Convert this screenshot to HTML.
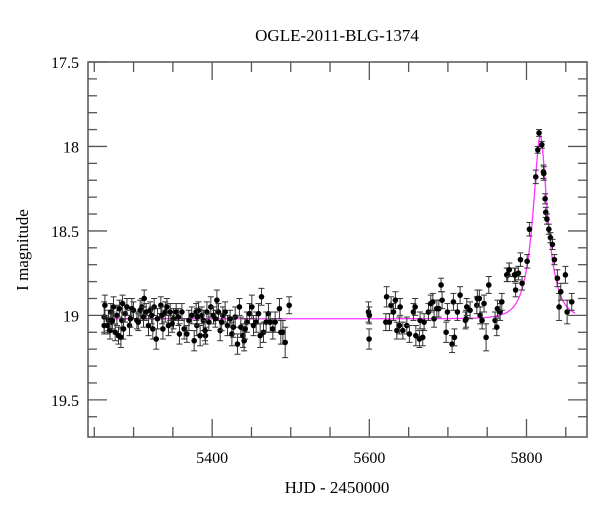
<!DOCTYPE html>
<html><head><meta charset="utf-8"><style>
html,body{margin:0;padding:0;background:#fff;}
svg{display:block;font-family:"Liberation Serif",serif;}
</style></head><body>
<svg id="chart" width="600" height="512" viewBox="0 0 600 512" xmlns="http://www.w3.org/2000/svg">
<rect width="600" height="512" fill="#fff"/>
<text x="337" y="41" font-size="17" text-anchor="middle">OGLE-2011-BLG-1374</text>
<text x="337" y="493" font-size="17" text-anchor="middle">HJD - 2450000</text>
<text transform="translate(28,250) rotate(-90)" font-size="17" text-anchor="middle">I magnitude</text>
<g id="ticks"></g>
<g id="model"></g>
<g id="points"></g>
<rect x="88" y="62" width="499" height="375" fill="none" stroke="#555" stroke-width="1.5"/>
</svg>
<script>
const days=[5262.6,5263.5,5262.6,5268,5271,5272.4,5274.5,5276.6,5278.8,5280.8,5282,5283.9,5285.1,5287.2,5289.3,5291.5,5294.8,5297.8,5299.9,5304.2,5308.4,5310.6,5312.6,5313.5,5316,5319,5321.1,5324.5,5326.2,5328.8,5330.4,5334.7,5337.3,5340.3,5342.4,5344.4,5346.6,5350.8,5354.2,5358.4,5361.5,5364.4,5367.8,5370.4,5377.1,5379.6,5380.5,5382.6,5384.7,5386.9,5388.9,5391.5,5393.3,5395.8,5398.3,5401.7,5406,5408,5410.2,5413.6,5416.5,5419.5,5422.9,5425.1,5429.3,5432.2,5434.7,5436.5,5439.1,5440.7,5444.1,5447.5,5450.5,5452.6,5456,5459,5461.1,5462.8,5465.3,5468.7,5471.6,5473.8,5477.2,5480.2,5485.6,5487.4,5490,5492.9,5498,
5267,5270,5273,5286,5296,5306,5323,5336,5349,5357,5374,5381,5391,5404,5412,5427,5442,
5598.9,5599.7,5600,5622,5621,5625.6,5627.7,5630.7,5633.2,5635,5638.3,5639.2,5642.6,5647.7,5651,5656.1,5658.3,5659.2,5663.8,5664.6,5668,5669.7,5675.2,5678.2,5680.8,5682.4,5685.9,5688.4,5691.3,5692.6,5697.7,5699.4,5705.3,5707,5708.3,5712.1,5715.5,5722.3,5723.2,5724,5728.2,5736.8,5737.5,5740,5741,5743.5,5746,5748.6,5752,5760,5762.2,5763,5766.4,5768.6,5774.9,5778,5785.9,
5776.2,5777.9,5784.7,5786.2,5789.7,5792.3,5794.4,5800.8,5803.7,5811.8,5814.4,5816,5819.5,5821.5,5822,5823.7,5824.5,5826,5828.4,5830.5,5833,5835.5,5839.3,5841.5,5843.6,5849.5,5851.7,5857.6];
const mags=[19.01,18.94,19.06,19.03,18.98,19.04,18.95,19.10,19.00,19.12,18.96,19.13,19.03,19.08,18.99,18.95,19.06,18.96,18.97,19.03,18.97,18.95,19.01,18.90,18.98,19.06,18.97,19.08,18.95,19.14,19.02,18.94,19.08,18.98,18.95,19.06,18.98,19.02,18.98,19.11,18.98,19.08,19.11,19.03,19.15,18.98,19.06,18.97,19.12,19.00,19.03,19.12,18.98,19.04,18.95,19.00,18.91,18.98,19.09,19.00,18.98,19.06,19.02,19.11,19.01,19.17,18.95,19.07,19.12,19.15,19.04,18.99,18.95,19.06,19.04,18.99,19.12,18.89,19.10,19.04,18.99,19.04,19.08,19.04,18.96,19.10,19.10,19.16,18.94,
19.06,19.09,19.03,18.93,19.02,19.04,19.00,19.00,19.05,19.01,19.00,19.01,19.09,19.02,19.04,19.07,19.08,
18.98,19.14,19.00,18.89,19.04,19.04,18.94,18.98,18.91,19.09,19.06,18.95,19.09,19.06,19.11,18.98,18.95,19.12,19.14,19.03,19.13,19.04,18.98,18.93,18.92,19.02,18.96,18.96,18.82,18.91,19.10,18.98,19.17,18.92,19.13,18.98,18.88,19.03,19.02,18.95,18.97,18.94,18.90,18.90,19.00,19.03,18.93,19.13,18.82,19.03,19.07,18.96,18.98,18.92,18.76,18.73,18.76,
18.76,18.73,18.76,18.85,18.75,18.67,18.81,18.68,18.49,18.18,18.02,17.92,17.99,18.15,18.16,18.31,18.39,18.43,18.49,18.54,18.58,18.67,18.78,18.95,18.86,18.76,18.98,18.92];
const errs=[0.09,0.06,0.05,0.06,0.05,0.05,0.06,0.05,0.06,0.05,0.05,0.06,0.05,0.06,0.05,0.05,0.06,0.06,0.05,0.05,0.06,0.05,0.06,0.05,0.05,0.06,0.05,0.06,0.05,0.06,0.06,0.05,0.06,0.06,0.05,0.06,0.05,0.06,0.05,0.06,0.05,0.06,0.05,0.06,0.06,0.05,0.06,0.05,0.06,0.05,0.06,0.05,0.06,0.05,0.06,0.05,0.06,0.05,0.06,0.05,0.06,0.06,0.05,0.07,0.06,0.06,0.05,0.06,0.07,0.06,0.06,0.06,0.07,0.06,0.06,0.06,0.07,0.05,0.06,0.06,0.06,0.06,0.06,0.06,0.06,0.07,0.07,0.09,0.05,
0.05,0.05,0.05,0.05,0.05,0.05,0.05,0.05,0.05,0.05,0.05,0.05,0.06,0.05,0.05,0.06,0.06,
0.06,0.06,0.05,0.06,0.05,0.05,0.05,0.05,0.05,0.05,0.05,0.05,0.05,0.05,0.05,0.05,0.05,0.06,0.05,0.05,0.05,0.05,0.05,0.05,0.05,0.05,0.05,0.05,0.04,0.05,0.06,0.05,0.05,0.05,0.05,0.05,0.05,0.05,0.05,0.05,0.05,0.05,0.05,0.05,0.05,0.05,0.05,0.08,0.05,0.05,0.05,0.05,0.05,0.05,0.04,0.04,0.04,
0.04,0.04,0.04,0.04,0.04,0.04,0.04,0.04,0.04,0.04,0.02,0.02,0.02,0.04,0.04,0.03,0.03,0.03,0.03,0.03,0.03,0.03,0.05,0.08,0.05,0.05,0.07,0.05];
const xTickMajor=[5400,5600,5800];
const yTickMajor=[17.5,18,18.5,19,19.5];
const modelParams=[5817.5,18,0.39,19.02]; // t0, tE, u0, baseline
const X0=88,X1=587,Y0=62,Y1=437,DMIN=5242,DMAX=5877,MTOP=17.5,MBOT=19.72;
const sx=d=>X0+(d-DMIN)/(DMAX-DMIN)*(X1-X0);
const sy=m=>Y0+(m-MTOP)/(MBOT-MTOP)*(Y1-Y0);
const NS="http://www.w3.org/2000/svg";
function mk(tag,attrs,parent){const e=document.createElementNS(NS,tag);for(const k in attrs)e.setAttribute(k,attrs[k]);parent.appendChild(e);return e;}
const tg=document.getElementById('ticks');
for(let d=5250;d<=5850;d+=50){const maj=xTickMajor.includes(d);const L=maj?18:10;const x=sx(d);
 let t=mk('line',{x1:x,x2:x,y1:Y1,y2:Y1-L,stroke:'#555','stroke-width':1.3},tg);
 
 
 t=mk('line',{x1:x,x2:x,y1:Y0,y2:Y0+L,stroke:'#555','stroke-width':1.3},tg);
 
 
 if(maj){const l=mk('text',{x:x,y:463,'font-size':16,'text-anchor':'middle'},tg);l.textContent=d;
 
 }}
for(let i=0;i<=21;i++){const m=17.5+i*0.1;const maj=yTickMajor.some(v=>Math.abs(v-m)<1e-6);const L=maj?19:9;const y=sy(m);
 let t=mk('line',{x1:X0,x2:X0+L,y1:y,y2:y,stroke:'#555','stroke-width':1.3},tg);
 
 
 t=mk('line',{x1:X1,x2:X1-L,y1:y,y2:y,stroke:'#555','stroke-width':1.3},tg);
 
 
 if(maj){const l=mk('text',{x:79,y:y+6,'font-size':16,'text-anchor':'end'},tg);l.textContent=String(Math.round(m*10)/10);
 
 }}
// model
const [t0,tE,u0,base]=modelParams;let pts=[];
for(let d=5262;d<=5862;d+=0.5){const u=Math.sqrt(u0*u0+((d-t0)/tE)**2);const A=(u*u+2)/(u*Math.sqrt(u*u+4));pts.push(sx(d).toFixed(2)+','+sy(base-2.5*Math.log10(A)).toFixed(2));}
const pl=mk('polyline',{points:pts.join(' '),fill:'none',stroke:'#ff33ff','stroke-width':1.3},document.getElementById('model'));


const pg=document.getElementById('points');
for(let i=0;i<days.length;i++){const x=sx(days[i]),y=sy(mags[i]),ya=sy(mags[i]-errs[i]),yb=sy(mags[i]+errs[i]);
 const g=mk('g',{},pg);
 
 
 mk('line',{x1:x,x2:x,y1:ya,y2:yb,stroke:'#333','stroke-width':1},g);
 mk('line',{x1:x-3,x2:x+3,y1:ya,y2:ya,stroke:'#333','stroke-width':1},g);
 mk('line',{x1:x-3,x2:x+3,y1:yb,y2:yb,stroke:'#333','stroke-width':1},g);
 mk('circle',{cx:x,cy:y,r:2.8,fill:'#000'},g);}
</script>
</body></html>
